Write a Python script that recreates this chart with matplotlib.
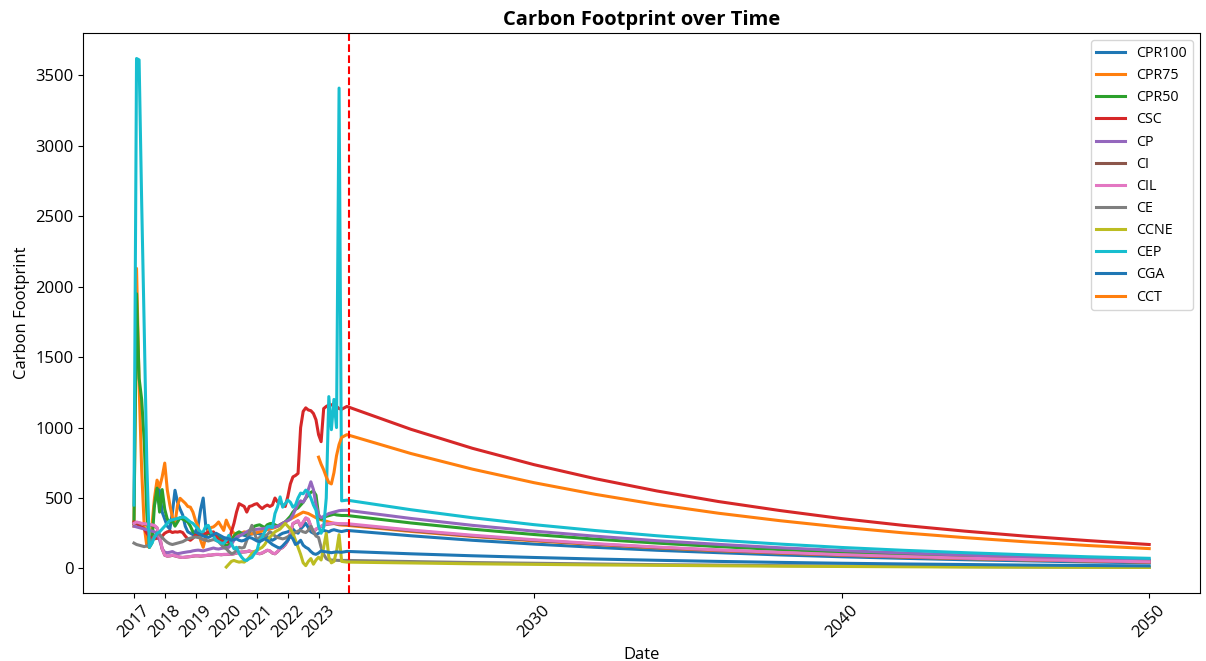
import numpy as np
import matplotlib
matplotlib.use("Agg")
import matplotlib.pyplot as plt

plt.rcParams['font.family'] = ['Open Sans', 'DejaVu Sans']

nan = np.nan
N_HIST = 82  # monthly points, Jan 2017 .. Oct 2023

# historical monthly values (right-aligned to Oct 2023, NaN before a series starts)
cpr100_hist = [450, 600, 550, 400, 350, 300, 280, 400, 555, 470,
               420, 380, 300, 260, 250, 240, 260, 300, 420, 500,
               300, 260, 250, 240, 230, 220, 210, 200, 210, 200,
               190, 210, 220, 230, 240, 235, 230, 240, 245, 250,
               250, 245, 240, 230, 220, 210, 200, 210, 225, 240,
               250, 255, 260, 270, 280, 260, 250, 280, 300, 320,
               290, 260, 250, 240, 250, 260, 270, 265, 260, 270,
               275, 270, 265, 262]
cpr75_hist = [300, 2130, 1300, 700, 300, 160, 150, 300, 500, 627,
              577, 650, 748, 557, 450, 363, 320, 450, 498, 480,
              463, 440, 435, 400, 340, 300, 200, 150, 224, 270,
              290, 295, 310, 330, 300, 270, 343, 300, 270, 250,
              240, 245, 250, 260, 255, 250, 245, 250, 255, 260,
              265, 270, 275, 280, 285, 290, 300, 310, 320, 330,
              340, 350, 360, 370, 380, 390, 400, 395, 390, 380,
              370, 360, 350, 345, 340, 335, 330, 325, 320, 315,
              310, 308]
cpr50_hist = [320, 1950, 1350, 1200, 900, 400, 150, 180, 450, 570,
              400, 560, 420, 350, 330, 340, 300, 330, 360, 350,
              340, 330, 300, 260, 250, 240, 250, 245, 240, 250,
              245, 235, 230, 220, 200, 180, 160, 170, 200, 230,
              250, 260, 250, 245, 250, 260, 280, 300, 306, 310,
              300, 290, 310, 318, 320, 310, 300, 310, 320, 330,
              350, 370, 400, 420, 430, 450, 470, 500, 520, 540,
              550, 520, 380, 350, 360, 370, 375, 380, 385, 380,
              378, 376]
csc_hist = [330, 320, 300, 295, 280, 250, 225, 215, 210, 215,
            212, 230, 250, 260, 265, 255, 260, 258, 262, 255,
            230, 210, 200, 215, 236, 245, 240, 248, 250, 258,
            255, 260, 230, 200, 195, 190, 188, 190, 260, 320,
            400, 460, 450, 440, 400, 440, 445, 455, 460, 440,
            425, 440, 450, 440, 450, 500, 472, 475, 450, 440,
            510, 600, 650, 660, 675, 1000, 1115, 1140, 1125, 1120,
            1100, 1055, 950, 900, 1135, 1150, 1160, 1160, 1170, 1150,
            1135, 1130]
cp_hist = [300, 295, 290, 285, 280, 275, 270, 265, 260, 250,
           200, 140, 115, 112, 115, 120, 110, 105, 108, 112,
           115, 118, 120, 125, 128, 130, 128, 125, 130, 135,
           140, 145, 140, 138, 142, 145, 148, 150, 170, 200,
           223, 230, 240, 250, 260, 270, 272, 275, 278, 280,
           282, 285, 288, 290, 292, 295, 300, 310, 320, 330,
           340, 350, 380, 420, 460, 480, 470, 500, 560, 615,
           560, 450, 380, 360, 370, 380, 390, 395, 400, 405,
           410, 412]
ci_hist = [318, 326, 322, 318, 315, 312, 310, 307, 302, 287,
           228, 138, 94, 87, 89, 93, 89, 84, 80, 78,
           80, 82, 84, 87, 89, 89, 87, 89, 91, 94,
           94, 97, 99, 99, 97, 99, 99, 101, 100, 104,
           109, 114, 116, 117, 119, 124, 116, 119, 109, 104,
           109, 119, 129, 124, 109, 104, 119, 139, 149, 168,
           198, 248, 317, 327, 337, 298, 327, 356, 347, 298,
           258, 278, 288, 298, 307, 312, 315, 317, 319, 317,
           315, 314]
cil_hist = [320, 330, 325, 320, 318, 315, 312, 310, 305, 290,
            230, 140, 95, 88, 90, 95, 90, 85, 80, 78,
            80, 82, 85, 88, 90, 90, 88, 90, 92, 95,
            95, 98, 100, 100, 98, 100, 100, 102, 100, 105,
            110, 115, 117, 118, 120, 125, 117, 120, 110, 105,
            110, 120, 130, 125, 110, 105, 120, 140, 150, 170,
            200, 250, 320, 330, 340, 300, 330, 360, 350, 300,
            260, 280, 290, 300, 310, 315, 318, 320, 322, 320,
            318, 318]
ce_hist = [180, 170, 165, 160, 155, 160, 170, 200, 230, 250,
           240, 220, 200, 185, 175, 170, 175, 180, 185, 190,
           200, 210, 215, 220, 223, 220, 215, 205, 200, 195,
           200, 205, 200, 190, 170, 150, 140, 120, 105, 110,
           130, 150, 145, 150, 200, 260, 306, 250, 200, 220,
           235, 230, 240, 260, 250, 230, 220, 215, 210, 215,
           225, 235, 245, 255, 265, 270, 260, 255, 270, 300,
           260, 230, 220, 150, 100, 70, 60, 60, 58, 58,
           57, 57]
ccne_hist = [10, 30, 50, 57, 50, 45, 48, 45, 60, 80,
             105, 120, 130, 140, 150, 170, 200, 222, 240, 260,
             270, 280, 300, 320, 300, 280, 250, 200, 150, 100,
             40, 20, 50, 70, 30, 60, 80, 60, 150, 250,
             80, 40, 50, 120, 240, 50]
cep_hist = [450, 3620, 3610, 2600, 1700, 750, 150, 180, 220, 250,
            260, 280, 300, 320, 340, 345, 350, 355, 360, 365,
            360, 345, 330, 320, 300, 282, 257, 260, 300, 306,
            257, 230, 200, 190, 180, 178, 200, 235, 176, 140,
            150, 107, 80, 60, 57, 70, 78, 105, 128, 200,
            220, 260, 295, 300, 290, 390, 437, 508, 435, 460,
            485, 470, 435, 450, 500, 535, 530, 556, 540, 500,
            450, 413, 300, 250, 292, 500, 1220, 985, 1200, 1000,
            3410, 480]
cga_hist = [260, 250, 240, 230, 225, 220, 230, 240, 250, 240,
            230, 220, 215, 210, 200, 205, 210, 200, 195, 200,
            210, 220, 215, 205, 195, 190, 200, 210, 200, 185,
            170, 160, 150, 145, 160, 180, 200, 230, 210, 170,
            180, 200, 165, 150, 140, 120, 105, 100, 110, 125,
            120, 118, 115, 112, 115, 118, 116, 115]
cct_hist = [790, 740, 700, 650, 610, 600, 680, 800, 880, 930]

# projection points
proj_years = [2023.92, 2026, 2028, 2030, 2032, 2034, 2036, 2038, 2040, 2042, 2044, 2046, 2048, 2050]
cpr100_proj = [270, 232, 200, 173, 150, 129, 112, 96, 83, 72, 62, 54, 46, 40]
cpr75_proj = [306, 263, 227, 196, 170, 146, 126, 109, 94, 81, 70, 61, 53, 45]
cpr50_proj = [376, 323, 279, 241, 208, 180, 155, 134, 116, 100, 86, 75, 65, 56]
csc_proj = [1150, 988, 853, 737, 637, 550, 475, 411, 354, 306, 265, 229, 198, 170]
cp_proj = [413, 355, 306, 265, 229, 197, 171, 147, 127, 110, 95, 82, 71, 61]
ci_proj = [312, 268, 231, 200, 173, 149, 129, 111, 96, 83, 72, 62, 54, 46]
cil_proj = [318, 273, 236, 204, 176, 152, 131, 114, 98, 85, 73, 63, 55, 47]
ce_proj = [57, 49, 42, 37, 32, 27, 24, 20, 18, 15, 13, 11, 10, 8]
ccne_proj = [45, 39, 33, 29, 25, 22, 19, 16, 14, 12, 10, 9, 8, 7]
cep_proj = [485, 417, 360, 311, 269, 232, 200, 173, 149, 129, 112, 97, 83, 72]
cga_proj = [121, 104, 90, 78, 67, 58, 50, 43, 37, 32, 28, 24, 21, 18]
cct_proj = [950, 816, 705, 609, 526, 454, 392, 339, 293, 253, 219, 189, 163, 141]

labels = ["CPR100", "CPR75", "CPR50", "CSC", "CP", "CI", "CIL", "CE", "CCNE", "CEP", "CGA", "CCT"]
hist = [cpr100_hist, cpr75_hist, cpr50_hist, csc_hist, cp_hist, ci_hist, cil_hist,
        ce_hist, ccne_hist, cep_hist, cga_hist, cct_hist]
proj = [cpr100_proj, cpr75_proj, cpr50_proj, csc_proj, cp_proj, ci_proj, cil_proj,
        ce_proj, ccne_proj, cep_proj, cga_proj, cct_proj]

xticks = [2017, 2018, 2019, 2020, 2021, 2022, 2023, 2030, 2040, 2050]
cutoff = 2024


def pad(vals):
    vals = list(vals)[-N_HIST:]
    return [nan] * (N_HIST - len(vals)) + vals


hist_x = 2017 + np.arange(N_HIST) / 12
x_all = np.concatenate([hist_x, proj_years])

fig = plt.figure(figsize=(12.06, 6.61), dpi=100)
ax = fig.add_axes([0.069, 0.103, 0.926, 0.847])

for name, h, p in zip(labels, hist, proj):
    y = np.array(pad(h) + list(p), dtype=float)
    ax.plot(x_all, y, label=name, linewidth=2.2)

ax.axvline(cutoff, color='red', linestyle='--', linewidth=1.5)

ax.set_xticks(xticks)
ax.set_xticklabels([str(t) for t in xticks], rotation=45, fontsize=12)
ax.tick_params(axis='y', labelsize=12)
ax.set_xlabel('Date', fontsize=12)
ax.set_ylabel('Carbon Footprint', fontsize=12)
ax.set_title('Carbon Footprint over Time', fontsize=14.5, fontweight='bold')
ax.legend(loc='upper right', fontsize=10.3)

fig.savefig('out.png', dpi=100)
